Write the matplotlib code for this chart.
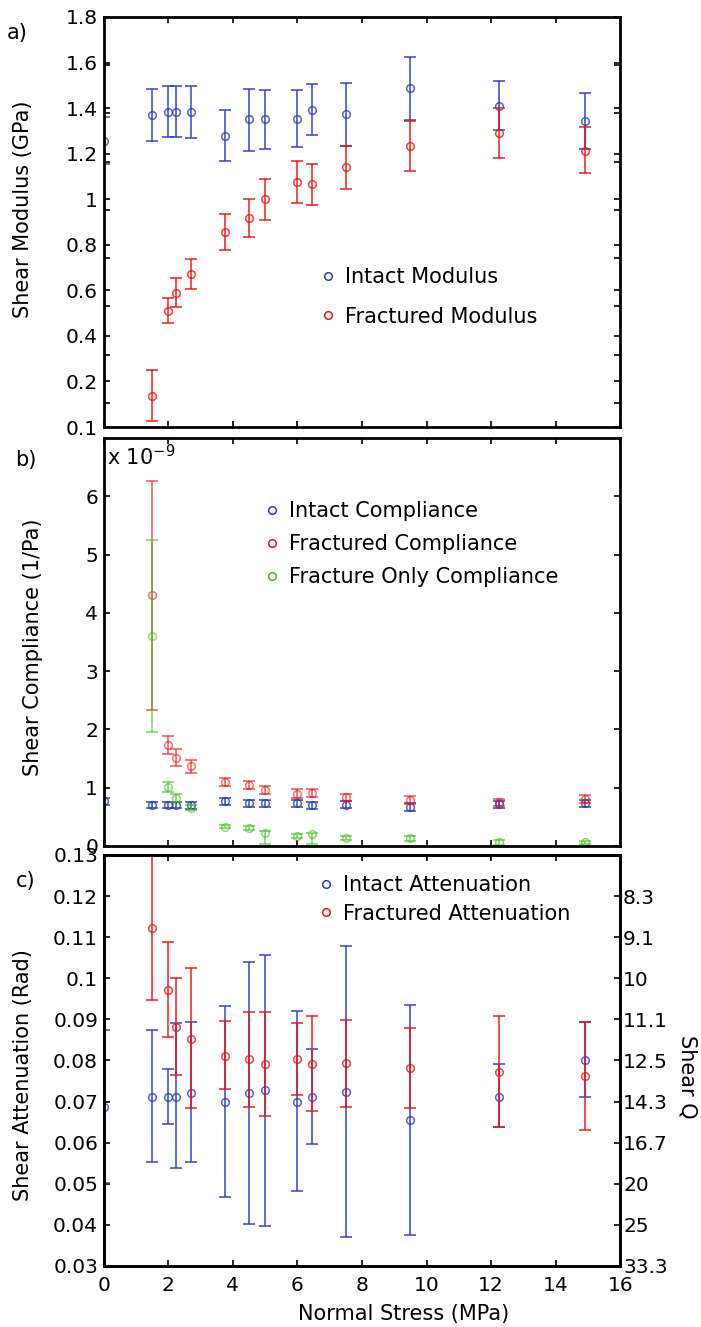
import numpy as np
import matplotlib
matplotlib.use('Agg')
import matplotlib.pyplot as plt
from matplotlib.lines import Line2D

plt.rcParams['font.family'] = ['DejaVu Sans']
plt.rcParams['mathtext.default'] = 'regular'

# normal stress steps (MPa)
stress_intact = [0, 1.5, 2, 2.25, 2.7, 3.75, 4.5, 5, 6, 6.45, 7.5, 9.5, 12.25, 14.9]
stress_frac = [1.5, 2, 2.25, 2.7, 3.75, 4.5, 5, 6, 6.45, 7.5, 9.5, 12.25, 14.9]

# shear modulus (GPa): value, lower, upper
mod_intact = [1.286, 1.395, 1.407, 1.407, 1.405, 1.307, 1.376, 1.376, 1.376, 1.414, 1.398, 1.504, 1.432, 1.369]
mod_intact_lo = [1.189, 1.287, 1.304, 1.304, 1.300, 1.203, 1.246, 1.254, 1.262, 1.311, 1.265, 1.373, 1.330, 1.252]
mod_intact_hi = [1.387, 1.501, 1.514, 1.514, 1.514, 1.413, 1.501, 1.498, 1.496, 1.521, 1.528, 1.635, 1.536, 1.486]
mod_frac = [0.229, 0.581, 0.654, 0.733, 0.907, 0.965, 1.045, 1.117, 1.106, 1.177, 1.266, 1.318, 1.246]
mod_frac_lo = [0.125, 0.532, 0.599, 0.673, 0.834, 0.889, 0.958, 1.030, 1.020, 1.086, 1.163, 1.214, 1.152]
mod_frac_hi = [0.336, 0.634, 0.717, 0.795, 0.982, 1.045, 1.130, 1.204, 1.189, 1.265, 1.370, 1.421, 1.345]

# shear compliance (x 1e-9 1/Pa)
comp_intact = [0.77, 0.71, 0.71, 0.70, 0.70, 0.77, 0.73, 0.73, 0.73, 0.70, 0.71, 0.67, 0.72, 0.73]
comp_intact_err = [0.06, 0.05, 0.05, 0.05, 0.06, 0.06, 0.06, 0.06, 0.06, 0.06, 0.06, 0.07, 0.06, 0.06]
comp_frac = [4.31, 1.73, 1.51, 1.37, 1.10, 1.04, 0.96, 0.90, 0.91, 0.84, 0.79, 0.75, 0.81]
comp_frac_lo = [2.34, 1.57, 1.37, 1.25, 1.03, 0.97, 0.89, 0.83, 0.84, 0.78, 0.72, 0.69, 0.74]
comp_frac_hi = [6.27, 1.88, 1.66, 1.47, 1.17, 1.11, 1.03, 0.97, 0.98, 0.90, 0.86, 0.81, 0.88]
comp_fonly = [3.60, 1.01, 0.83, 0.66, 0.33, 0.31, 0.22, 0.17, 0.20, 0.14, 0.13, 0.06, 0.06]
comp_fonly_lo = [1.95, 0.93, 0.76, 0.61, 0.30, 0.28, 0.03, 0.14, 0.03, 0.11, 0.09, 0.02, 0.03]
comp_fonly_hi = [5.25, 1.09, 0.90, 0.71, 0.36, 0.34, 0.25, 0.20, 0.23, 0.17, 0.17, 0.10, 0.09]

# shear attenuation (rad)
att_intact = [0.0688, 0.0712, 0.0712, 0.0712, 0.0722, 0.0700, 0.0720, 0.0727, 0.0700, 0.0712, 0.0724, 0.0655, 0.0712, 0.0801]
att_intact_lo = [0.0501, 0.0552, 0.0645, 0.0538, 0.0552, 0.0469, 0.0402, 0.0397, 0.0483, 0.0596, 0.0371, 0.0375, 0.0637, 0.0712]
att_intact_hi = [0.0874, 0.0873, 0.0779, 0.0890, 0.0894, 0.0933, 0.1040, 0.1057, 0.0921, 0.0828, 0.1079, 0.0935, 0.0791, 0.0894]
att_frac = [0.1122, 0.0972, 0.0882, 0.0852, 0.0812, 0.0803, 0.0791, 0.0803, 0.0791, 0.0793, 0.0781, 0.0773, 0.0761]
att_frac_lo = [0.0946, 0.0856, 0.0765, 0.0684, 0.0731, 0.0688, 0.0666, 0.0716, 0.0677, 0.0688, 0.0685, 0.0637, 0.0631]
att_frac_hi = [0.1298, 0.1088, 0.1000, 0.1024, 0.0897, 0.0917, 0.0919, 0.0890, 0.0909, 0.0899, 0.0880, 0.0908, 0.0894]

mod_ticks = [0.2, 0.4, 0.6, 0.8, 1.0, 1.2, 1.4, 1.6, 1.8]
mod_ticklabels = ['0.2', '0.4', '0.6', '0.8', '1', '1.2', '1.4', '1.6', '1.8']
att_ticks = [0.03, 0.04, 0.05, 0.06, 0.07, 0.08, 0.09, 0.10, 0.11, 0.12, 0.13]
att_ticklabels = ['0.03', '0.04', '0.05', '0.06', '0.07', '0.08', '0.09', '0.1', '0.11', '0.12', '0.13']
q_ticks = [0.03, 0.04, 0.05, 0.06, 0.07, 0.08, 0.09, 0.10, 0.11, 0.12]
q_ticklabels = ['33.3', '25', '20', '16.7', '14.3', '12.5', '11.1', '10', '9.1', '8.3']

BLUE = '#2a3cc0'
RED = '#f01010'
GREEN = '#3cbf1e'
FS = 14.5
LFS = 15


def bars(ax, x, y, lo, hi, color, alpha=0.8):
    y = np.asarray(y)
    yerr = [y - np.asarray(lo), np.asarray(hi) - y]
    ax.errorbar(x, y, yerr=yerr, fmt='none', ecolor=color, elinewidth=1.3,
                capsize=4, capthick=1.3, alpha=alpha)
    ax.plot(x, y, 'o', ms=5.5, mfc='none', mec=color, mew=1.1, alpha=alpha)


def style(ax):
    ax.set_xlim(0, 16)
    ax.set_xticks(np.arange(0, 17, 2))
    ax.tick_params(direction='in', length=4, width=1.2, labelsize=FS, pad=4,
                   top=True, right=True)
    for s in ax.spines.values():
        s.set_linewidth(2)


def legend(ax, labels, colors, anchor, spacing):
    handles = [Line2D([], [], ls='none', marker='o', ms=5.5, mfc='none', mec=c, mew=1.1)
               for c in colors]
    ax.legend(handles, labels, loc='center left', bbox_to_anchor=anchor, frameon=False,
              fontsize=LFS, handlelength=0.8, handletextpad=0.4,
              labelspacing=spacing, borderpad=0, borderaxespad=0)


fig = plt.figure(figsize=(7.01, 13.27), dpi=100)
left, width = 0.1479, 0.7369

# a) shear modulus
ax_a = fig.add_axes([left, 0.6782, width, 0.3090])
bars(ax_a, stress_intact, mod_intact, mod_intact_lo, mod_intact_hi, BLUE)
bars(ax_a, stress_frac, mod_frac, mod_frac_lo, mod_frac_hi, RED)
style(ax_a)
ax_a.set_ylim(0.1, 1.8)
ax_a.set_yticks([0.1, 0.2, 0.4, 0.6, 0.8, 1.0, 1.2, 1.4, 1.6])
ax_a.set_yticklabels(['0.1', '', '', '', '', '', '', '', ''])
ax_a.set_xticklabels([])
ax_a.set_ylabel('Shear Modulus (GPa)', fontsize=LFS)
ax_a.yaxis.set_label_coords(-0.137, 0.532)
legend(ax_a, ['Intact Modulus', 'Fractured Modulus'], [BLUE, RED], (0.418, 0.317), 0.93)

# second set of ticks on the 0-1.8 scale
ax_a2 = fig.add_axes(ax_a.get_position(), frameon=False)
ax_a2.patch.set_visible(False)
ax_a2.set_xlim(0, 16)
ax_a2.set_xticks([])
ax_a2.set_ylim(0, 1.8)
ax_a2.set_yticks(mod_ticks)
ax_a2.set_yticklabels(mod_ticklabels)
ax_a2.tick_params(direction='in', length=4, width=1.2, labelsize=FS, pad=4, right=True)

# b) shear compliance
ax_b = fig.add_axes([left, 0.3625, width, 0.3074])
bars(ax_b, stress_intact, comp_intact,
     np.subtract(comp_intact, comp_intact_err), np.add(comp_intact, comp_intact_err), BLUE)
bars(ax_b, stress_frac, comp_frac, comp_frac_lo, comp_frac_hi, RED, alpha=0.6)
bars(ax_b, stress_frac, comp_fonly, comp_fonly_lo, comp_fonly_hi, GREEN, alpha=0.6)
style(ax_b)
ax_b.set_ylim(0, 7)
ax_b.set_yticks(range(0, 7))
ax_b.set_xticklabels([])
ax_b.set_ylabel('Shear Compliance (1/Pa)', fontsize=LFS)
ax_b.yaxis.set_label_coords(-0.117, 0.488)
ax_b.text(0.006, 0.985, 'x 10$^{-9}$', transform=ax_b.transAxes, ha='left', va='top',
          fontsize=LFS)
legend(ax_b, ['Intact Compliance', 'Fractured Compliance', 'Fracture Only Compliance'],
       [BLUE, RED, GREEN], (0.31, 0.740), 0.62)

# c) shear attenuation with Q on the right
ax_c = fig.add_axes([left, 0.0460, width, 0.3097])
bars(ax_c, stress_intact, att_intact, att_intact_lo, att_intact_hi, BLUE)
bars(ax_c, stress_frac, att_frac, att_frac_lo, att_frac_hi, RED)
style(ax_c)
ax_c.tick_params(right=False)
ax_c.tick_params(axis='x', pad=7)
ax_c.set_ylim(0.03, 0.13)
ax_c.set_yticks(att_ticks)
ax_c.set_yticklabels(att_ticklabels)
ax_c.set_xlabel('Normal Stress (MPa)', fontsize=LFS)
ax_c.xaxis.set_label_coords(0.581, -0.092)
ax_c.set_ylabel('Shear Attenuation (Rad)', fontsize=LFS)
ax_c.yaxis.set_label_coords(-0.137, 0.465)
legend(ax_c, ['Intact Attenuation', 'Fractured Attenuation'], [BLUE, RED], (0.415, 0.892), 0.4)

ax_q = ax_c.twinx()
ax_q.set_ylim(0.03, 0.13)
ax_q.set_yticks(q_ticks)
ax_q.set_yticklabels(q_ticklabels)
ax_q.tick_params(direction='in', length=4, width=1.2, labelsize=FS, pad=2)
ax_q.set_ylabel('Shear Q', fontsize=LFS, rotation=270, va='center')
ax_q.yaxis.set_label_coords(1.131, 0.46)
for s in ax_q.spines.values():
    s.set_linewidth(2)

fig.text(0.024, 0.975, 'a)', fontsize=LFS, ha='center', va='center')
fig.text(0.037, 0.653, 'b)', fontsize=LFS, ha='center', va='center')
fig.text(0.037, 0.336, 'c)', fontsize=LFS, ha='center', va='center')

fig.savefig('out.png', dpi=100)
